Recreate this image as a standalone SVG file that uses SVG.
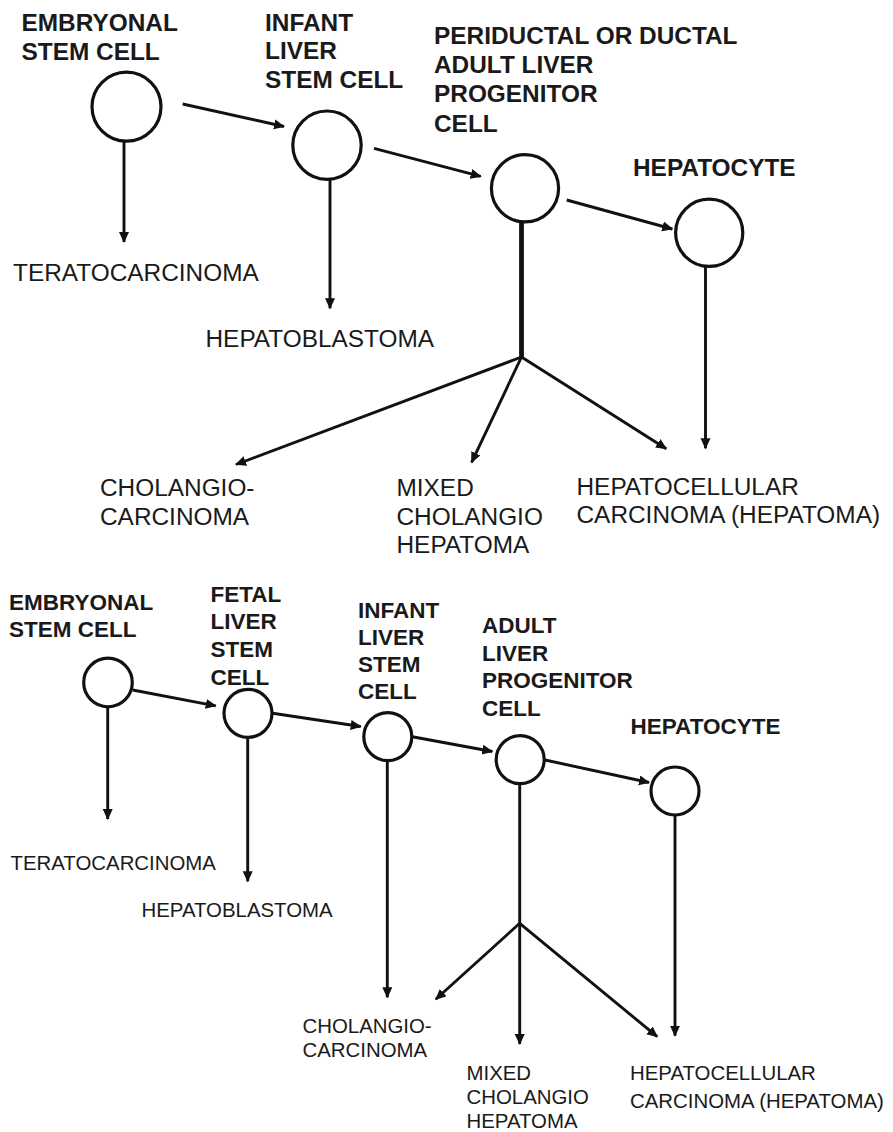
<svg xmlns="http://www.w3.org/2000/svg" width="893" height="1132" viewBox="0 0 893 1132">
<style>
.b1{font-family:"Liberation Sans",Arial,sans-serif;font-weight:bold;font-size:24.4px;fill:#1a1a1a}
.r1{font-family:"Liberation Sans",Arial,sans-serif;font-size:24.4px;fill:#1a1a1a}
.b2{font-family:"Liberation Sans",Arial,sans-serif;font-weight:bold;font-size:22.5px;fill:#1a1a1a}
.r2{font-family:"Liberation Sans",Arial,sans-serif;font-size:20.4px;fill:#1a1a1a}
.cell{fill:#fff;stroke:#111;stroke-width:3.2}
.ln{stroke:#111;stroke-width:2.9;fill:none}
.lt{stroke:#111;stroke-width:4.8;fill:none}
.ar{marker-end:url(#ah)}
</style>
<defs>
<marker id="ah" markerUnits="userSpaceOnUse" markerWidth="13" markerHeight="11" refX="10" refY="5" orient="auto">
<path d="M0,0 L11,5 L0,10 Z" fill="#111"/>
</marker>
</defs>
<rect width="893" height="1132" fill="#fff"/>

<!-- connectors -->
<g id="connectors">
<!-- top -->
<line class="ln ar" x1="182.7" y1="104" x2="284" y2="126.5"/>
<line class="ln ar" x1="374" y1="148.3" x2="480.7" y2="176.4"/>
<line class="ln ar" x1="566.7" y1="200" x2="672.3" y2="229"/>
<line class="ln ar" x1="124" y1="141.5" x2="124" y2="242"/>
<line class="ln ar" x1="330" y1="179.5" x2="330" y2="308.3"/>
<line class="lt" x1="521.5" y1="222" x2="521.5" y2="357"/>
<line class="ln ar" x1="521.5" y1="357" x2="236" y2="464.5"/>
<line class="ln ar" x1="521.5" y1="357" x2="471.6" y2="462.3"/>
<line class="ln ar" x1="521.5" y1="357" x2="666.2" y2="448.7"/>
<line class="ln ar" x1="705.5" y1="267" x2="705.5" y2="448.3"/>
<!-- bottom -->
<line class="ln ar" x1="132.7" y1="690" x2="215.7" y2="705.8"/>
<line class="ln ar" x1="272.7" y1="713.3" x2="360.7" y2="726.5"/>
<line class="ln ar" x1="412.3" y1="736.7" x2="492.3" y2="751.5"/>
<line class="ln ar" x1="545" y1="760" x2="649" y2="782.5"/>
<line class="ln ar" x1="107.7" y1="707" x2="107.7" y2="819"/>
<line class="ln ar" x1="247.7" y1="737.5" x2="247.7" y2="881.3"/>
<line class="ln ar" x1="387.3" y1="761" x2="387.3" y2="997.3"/>
<line class="ln ar" x1="519.7" y1="784" x2="519.7" y2="1044"/>
<line class="ln ar" x1="519.7" y1="923.3" x2="435.8" y2="999.3"/>
<line class="ln ar" x1="519.7" y1="923.3" x2="657.2" y2="1036.7"/>
<line class="ln ar" x1="675" y1="815" x2="675" y2="1035.7"/>
</g>

<!-- top diagram nodes -->
<g id="t-embryonal">
<circle class="cell" cx="126.5" cy="106.7" r="34.5"/>
<text class="b1" x="21.5" y="31">EMBRYONAL</text>
<text class="b1" x="21.5" y="59.5">STEM CELL</text>
</g>
<g id="t-infant">
<circle class="cell" cx="327" cy="145.2" r="34.2"/>
<text class="b1" x="265" y="30.7">INFANT</text>
<text class="b1" x="265" y="59.3">LIVER</text>
<text class="b1" x="265" y="88.3">STEM CELL</text>
</g>
<g id="t-progenitor">
<circle class="cell" cx="525" cy="188.3" r="33.6"/>
<text class="b1" x="434" y="44.3">PERIDUCTAL OR DUCTAL</text>
<text class="b1" x="434" y="73.3">ADULT LIVER</text>
<text class="b1" x="434" y="102.3">PROGENITOR</text>
<text class="b1" x="434" y="132">CELL</text>
</g>
<g id="t-hepatocyte">
<circle class="cell" cx="709.2" cy="232.8" r="33.6"/>
<text class="b1" x="633" y="176">HEPATOCYTE</text>
</g>
<g id="t-teratocarcinoma">
<text class="r1" x="13" y="281">TERATOCARCINOMA</text>
</g>
<g id="t-hepatoblastoma">
<text class="r1" x="205.5" y="346.7">HEPATOBLASTOMA</text>
</g>
<g id="t-cholangiocarcinoma">
<text class="r1" x="100" y="496">CHOLANGIO-</text>
<text class="r1" x="100" y="524.5">CARCINOMA</text>
</g>
<g id="t-mixed">
<text class="r1" x="396.5" y="496">MIXED</text>
<text class="r1" x="396.5" y="524.5">CHOLANGIO</text>
<text class="r1" x="396.5" y="553">HEPATOMA</text>
</g>
<g id="t-hcc">
<text class="r1" x="576.5" y="495">HEPATOCELLULAR</text>
<text class="r1" x="576.5" y="523">CARCINOMA (HEPATOMA)</text>
</g>

<!-- bottom diagram nodes -->
<g id="b-embryonal">
<circle class="cell" cx="108" cy="682.5" r="24.3"/>
<text class="b2" x="9" y="610">EMBRYONAL</text>
<text class="b2" x="9" y="637">STEM CELL</text>
</g>
<g id="b-fetal">
<circle class="cell" cx="248" cy="713.3" r="24"/>
<text class="b2" x="210.5" y="601.5">FETAL</text>
<text class="b2" x="210.5" y="629.3">LIVER</text>
<text class="b2" x="210.5" y="657.3">STEM</text>
<text class="b2" x="210.5" y="685">CELL</text>
</g>
<g id="b-infant">
<circle class="cell" cx="387.8" cy="736.7" r="24"/>
<text class="b2" x="358" y="617.7">INFANT</text>
<text class="b2" x="358" y="645">LIVER</text>
<text class="b2" x="358" y="671.7">STEM</text>
<text class="b2" x="358" y="699.3">CELL</text>
</g>
<g id="b-adult">
<circle class="cell" cx="520.2" cy="759.7" r="24"/>
<text class="b2" x="482" y="632.7">ADULT</text>
<text class="b2" x="482" y="660.7">LIVER</text>
<text class="b2" x="482" y="688.3">PROGENITOR</text>
<text class="b2" x="482" y="716">CELL</text>
</g>
<g id="b-hepatocyte">
<circle class="cell" cx="675" cy="791" r="24"/>
<text class="b2" x="630.5" y="734">HEPATOCYTE</text>
</g>
<g id="b-teratocarcinoma">
<text class="r2" x="10.5" y="870">TERATOCARCINOMA</text>
</g>
<g id="b-hepatoblastoma">
<text class="r2" x="141.5" y="916.7">HEPATOBLASTOMA</text>
</g>
<g id="b-cholangiocarcinoma">
<text class="r2" x="302.5" y="1033.3">CHOLANGIO-</text>
<text class="r2" x="302.5" y="1057.3">CARCINOMA</text>
</g>
<g id="b-mixed">
<text class="r2" x="466.5" y="1080">MIXED</text>
<text class="r2" x="466.5" y="1104">CHOLANGIO</text>
<text class="r2" x="466.5" y="1127.5">HEPATOMA</text>
</g>
<g id="b-hcc">
<text class="r2" x="630" y="1080">HEPATOCELLULAR</text>
<text class="r2" x="630" y="1108.3">CARCINOMA (HEPATOMA)</text>
</g>
</svg>
